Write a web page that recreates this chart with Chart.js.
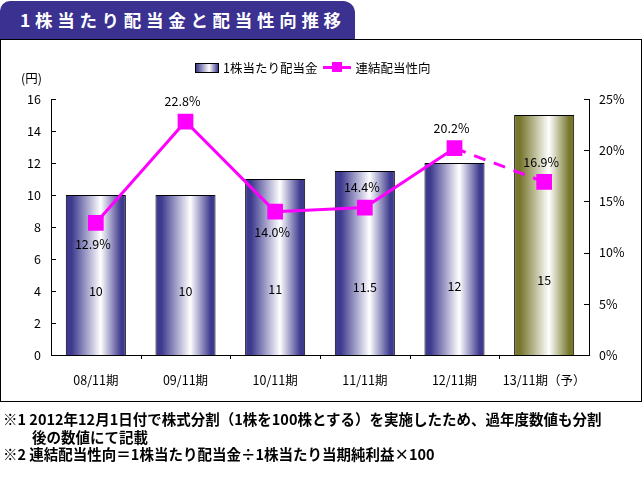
<!DOCTYPE html>
<html><head><meta charset="utf-8">
<script src="https://cdn.jsdelivr.net/npm/chart.js@4"></script>
<style>
html,body{margin:0;padding:0;background:#fff;}
body{width:644px;height:478px;position:relative;overflow:hidden;font-family:"Noto Sans CJK JP",sans-serif;}
#banner{position:absolute;left:0;top:1px;width:355px;height:38px;background:#3a3190;border-radius:10px 12px 0 0;color:#fff;font-weight:bold;font-size:17.5px;line-height:38px;letter-spacing:4.7px;padding-left:20px;box-sizing:border-box;white-space:nowrap;}
#box{position:absolute;left:0;top:39px;width:642px;height:363px;border:1px solid #000;box-sizing:border-box;}
#c{position:absolute;left:0;top:0;}
#legend{position:absolute;top:58px;left:195px;font-size:12.5px;display:flex;align-items:center;white-space:nowrap;color:#000;}
.sw1{width:22px;height:8px;border:1px solid #000;background:linear-gradient(90deg,#3c3889,#fff 60%,#3c3889);margin-right:4px;}
.sw2{position:relative;width:28px;height:3px;background:#ff00ff;margin:0 4px 0 6px;}
.sw2:after{content:"";position:absolute;left:9px;top:-4px;width:10px;height:10px;background:#ff00ff;}
#yen{position:absolute;left:21px;top:68px;font-size:12.5px;}
#notes{position:absolute;left:3px;top:410px;font-size:14.5px;line-height:17.5px;font-weight:bold;color:#000;white-space:nowrap;}
#notes .ind{display:inline-block;margin-left:29px;}
</style></head>
<body>
<div id="box"></div>
<div id="banner">1株当たり配当金と配当性向推移</div>
<canvas id="c" width="644" height="478"></canvas>
<div id="legend"><div class="sw1"></div><span>1株当たり配当金</span><div class="sw2"></div><span>連結配当性向</span></div>
<div id="yen">(円)</div>
<div id="notes">※1 2012年12月1日付で株式分割（1株を100株とする）を実施したため、過年度数値も分割<br><span class="ind">後の数値にて記載</span><br>※2 連結配当性向＝1株当たり配当金÷1株当たり当期純利益×100</div>
<script>
const categories = ["08/11期","09/11期","10/11期","11/11期","12/11期","13/11期（予）"];
const dividend = [10, 10, 11, 11.5, 12, 15];
const payoutRatio = [12.9, 22.8, 14.0, 14.4, 20.2, 16.9];
const leftTicks = [0,2,4,6,8,10,12,14,16];
const rightTicks = [0,5,10,15,20,25];

const pctSide = ['below','above','below','above','above','above'];
const FONT = '"Noto Sans CJK JP", sans-serif';

function barGradient(context){
  const chart = context.chart;
  const xs = chart.scales.x;
  if(!xs || xs.width === undefined || !chart.chartArea) return '#3c3889';
  const i = context.dataIndex;
  const cx = xs.getPixelForValue(i);
  const w = xs.width / categories.length * 0.67;
  const g = chart.ctx.createLinearGradient(cx - w/2, 0, cx + w/2, 0);
  const dark = i === categories.length - 1 ? '#76762c' : '#3e3a8f';
  g.addColorStop(0, dark);
  g.addColorStop(0.1, dark);
  g.addColorStop(0.58, '#ffffff');
  g.addColorStop(0.92, dark);
  g.addColorStop(1, dark);
  return g;
}

const labelPlugin = {
  id: 'labels',
  afterDatasetsDraw(chart){
    const ctx = chart.ctx;
    ctx.save();
    ctx.font = '12.5px ' + FONT;
    ctx.fillStyle = '#000';
    ctx.textAlign = 'center';
    ctx.textBaseline = 'middle';
    const barMeta = chart.getDatasetMeta(0);
    const yL = chart.scales.y;
    barMeta.data.forEach((el, i) => {
      ctx.fillText(String(dividend[i]), el.x, yL.getPixelForValue(4.0 + (dividend[i]-10)*0.14));
    });
    const lineMeta = chart.getDatasetMeta(1);
    lineMeta.data.forEach((el, i) => {
      const dy = pctSide[i] === 'below' ? 21 : -20;
      ctx.fillText(payoutRatio[i].toFixed(1) + '%', el.x - 3, el.y + dy);
    });
    ctx.strokeStyle = '#000';
    ctx.lineWidth = 1;
    const yR = chart.scales.y1;
    const ca = chart.chartArea;
    ctx.beginPath();
    leftTicks.forEach(v => { const y = Math.round(yL.getPixelForValue(v)) + 0.5; ctx.moveTo(ca.left, y); ctx.lineTo(ca.left + 5, y); });
    rightTicks.forEach(v => { const y = Math.round(yR.getPixelForValue(v)) + 0.5; ctx.moveTo(ca.right, y); ctx.lineTo(ca.right - 5, y); });
    const xs = chart.scales.x;
    const cw = xs.width / categories.length;
    for (let k = 1; k < categories.length; k++) { const x = Math.round(xs.left + cw*k) + 0.5; ctx.moveTo(x, ca.bottom); ctx.lineTo(x, ca.bottom + 4); }
    ctx.stroke();
    ctx.restore();
  }
};

new Chart(document.getElementById('c'), {
  data: {
    labels: categories,
    datasets: [
      {
        type: 'bar', label: '1株当たり配当金', data: dividend, yAxisID: 'y',
        backgroundColor: barGradient, borderColor: '#000', borderWidth: 1,
        categoryPercentage: 1, barPercentage: 0.67, order: 2
      },
      {
        type: 'line', label: '連結配当性向', data: payoutRatio, yAxisID: 'y1',
        borderColor: '#ff00ff', backgroundColor: '#ff00ff', borderWidth: 3,
        pointStyle: 'rect', pointRadius: 9, pointHoverRadius: 9,
        segment: { borderDash: c => c.p1DataIndex === 5 ? [12, 9] : undefined },
        order: 1
      }
    ]
  },
  options: {
    responsive: false, animation: false, devicePixelRatio: 1,
    layout: { padding: { top: 99, left: 0, right: 0, bottom: 0 } },
    plugins: { legend: { display: false }, tooltip: { enabled: false } },
    scales: {
      x: {
        offset: true,
        grid: { display: false, drawTicks: false },
        border: { color: '#000', width: 1 },
        ticks: { color: '#000', font: { family: FONT, size: 12.5 }, padding: 18, maxRotation: 0, autoSkip: false },
        afterFit(s){ s.height = 123; }
      },
      y: {
        position: 'left', min: 0, max: 16,
        grid: { display: false, drawTicks: false },
        border: { color: '#000', width: 1 },
        afterBuildTicks(s){ s.ticks = leftTicks.map(v => ({ value: v })); },
        ticks: { color: '#000', font: { family: FONT, size: 12.5 }, padding: 10 },
        afterFit(s){ s.width = 51; }
      },
      y1: {
        position: 'right', min: 0, max: 25,
        grid: { display: false, drawTicks: false },
        border: { color: '#000', width: 1 },
        afterBuildTicks(s){ s.ticks = rightTicks.map(v => ({ value: v })); },
        ticks: { color: '#000', font: { family: FONT, size: 12.5 }, padding: 10, callback: v => v + '%' },
        afterFit(s){ s.width = 55; }
      }
    }
  },
  plugins: [labelPlugin]
});
</script>
</body></html>
